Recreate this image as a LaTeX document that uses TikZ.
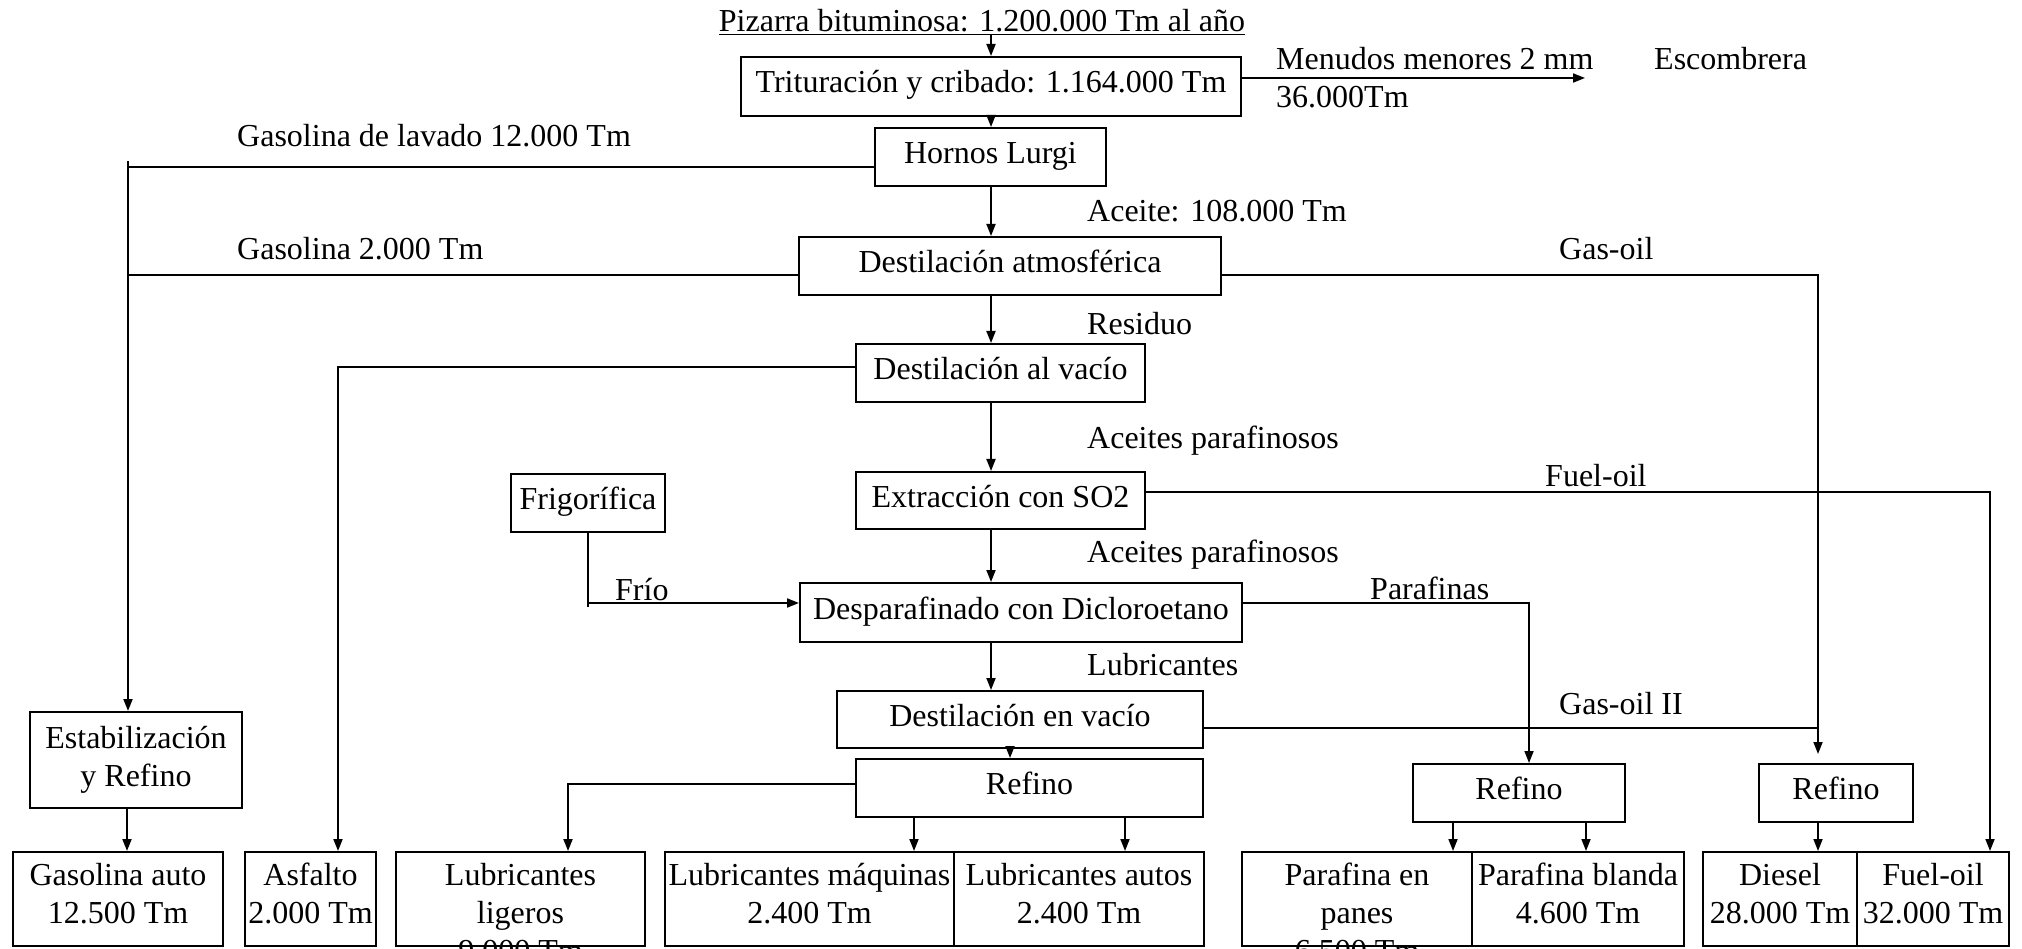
\documentclass[tikz,border=0pt]{standalone}
\usepackage{fontspec}
\setmainfont{Liberation Serif}
\usetikzlibrary{arrows.meta}
\begin{document}
\begin{tikzpicture}[x=1pt,y=-1pt,
  every node/.style={font=\fontsize{32}{38}\selectfont},
  box/.style={draw, line width=2pt, inner sep=0pt},
  one/.style={text height=22pt, text depth=9pt},
  lbl/.style={inner sep=0pt, anchor=base west},
  tx/.style={inner sep=0pt, anchor=base},
  ln/.style={line width=1.8pt},
  arr/.style={line width=1.8pt, -{Triangle[length=12pt,width=9pt]}}]
\useasboundingbox (0,0) rectangle (2022,949);
\clip (0,0) rectangle (2022,949);

% source
\node[tx] (src) at (982,32) {\underline{Pizarra bituminosa: 1.200.000 Tm al año}};

% process boxes
\node[box, one, minimum width=500pt, minimum height=59pt] (trit) at (991,86.5) {Trituración y cribado: 1.164.000 Tm};
\node[box, one, minimum width=231pt, minimum height=58pt] (horn) at (990.5,157) {Hornos Lurgi};
\node[box, one, minimum width=422pt, minimum height=58pt] (datm) at (1010,266) {Destilación atmosférica};
\node[box, one, minimum width=289pt, minimum height=58pt] (dvac) at (1000.5,373) {Destilación al vacío};
\node[box, one, minimum width=289pt, minimum height=57pt] (extr) at (1000.5,500.5) {Extracción con SO2};
\node[box, one, minimum width=154pt, minimum height=58pt] (frig) at (588,503) {Frigorífica};
\node[box, one, minimum width=442pt, minimum height=59pt] (desp) at (1021,612.5) {Desparafinado con Dicloroetano};
\node[box, one, minimum width=366pt, minimum height=57pt] (denv) at (1020,719.5) {Destilación en vacío};
\node[box, one, minimum width=347pt, minimum height=58pt] (ref1) at (1029.5,788) {Refino};
\node[box, one, minimum width=212pt, minimum height=58pt] (ref2) at (1519,793) {Refino};
\node[box, one, minimum width=154pt, minimum height=58pt] (ref3) at (1836,793) {Refino};
\node[box, minimum width=212pt, minimum height=96pt, align=center] (estab) at (136,760) {Estabilización\\y Refino};

% product boxes
\node[box, minimum width=210pt, minimum height=94pt] (gasa) at (118,899) {};
\node[box, minimum width=131pt, minimum height=94pt] (asf) at (310.5,899) {};
\node[box, minimum width=249pt, minimum height=94pt] (lubl) at (520.5,899) {};
\node[box, minimum width=289pt, minimum height=94pt] (lubm) at (809.5,899) {};
\node[box, minimum width=250pt, minimum height=94pt] (luba) at (1079,899) {};
\node[box, minimum width=230pt, minimum height=94pt] (parp) at (1357,899) {};
\node[box, minimum width=212pt, minimum height=94pt] (parb) at (1578,899) {};
\node[box, minimum width=154pt, minimum height=94pt] (dies) at (1780,899) {};
\node[box, minimum width=152pt, minimum height=94pt] (fuel) at (1933,899) {};

\coordinate (bl) at (0,885);
\node[tx] (tgasa) at (gasa |- bl) {\begin{tabular}[t]{@{}c@{}}Gasolina auto\\12.500 Tm\end{tabular}};
\node[tx] (tasf) at (asf |- bl) {\begin{tabular}[t]{@{}c@{}}Asfalto\\2.000 Tm\end{tabular}};
\node[tx] (tlubl) at (lubl |- bl) {\begin{tabular}[t]{@{}c@{}}Lubricantes\\ligeros\\9.000 Tm\end{tabular}};
\node[tx] (tlubm) at (lubm |- bl) {\begin{tabular}[t]{@{}c@{}}Lubricantes máquinas\\2.400 Tm\end{tabular}};
\node[tx] (tluba) at (luba |- bl) {\begin{tabular}[t]{@{}c@{}}Lubricantes autos\\2.400 Tm\end{tabular}};
\node[tx] (tparp) at (parp |- bl) {\begin{tabular}[t]{@{}c@{}}Parafina en\\panes\\6.500 Tm\end{tabular}};
\node[tx] (tparb) at (parb |- bl) {\begin{tabular}[t]{@{}c@{}}Parafina blanda\\4.600 Tm\end{tabular}};
\node[tx] (tdies) at (dies |- bl) {\begin{tabular}[t]{@{}c@{}}Diesel\\28.000 Tm\end{tabular}};
\node[tx] (tfuel) at (fuel |- bl) {\begin{tabular}[t]{@{}c@{}}Fuel-oil\\32.000 Tm\end{tabular}};

% flow labels
\node[lbl] (l1) at (1276,70) {Menudos menores 2 mm};
\node[lbl] (l2) at (1276,108) {36.000Tm};
\node[lbl] (l3) at (1654,70) {Escombrera};
\node[lbl] (l4) at (237,147) {Gasolina de lavado 12.000 Tm};
\node[lbl] (l5) at (237,260) {Gasolina 2.000 Tm};
\node[lbl] (l6) at (1087,222) {Aceite: 108.000 Tm};
\node[lbl] (l7) at (1559,260) {Gas-oil};
\node[lbl] (l8) at (1087,335) {Residuo};
\node[lbl] (l9) at (1087,449) {Aceites parafinosos};
\node[lbl] (l10) at (1545,486) {Fuel-oil};
\node[lbl] (l11) at (1087,562) {Aceites parafinosos};
\node[lbl] (l12) at (615,600) {Frío};
\node[lbl] (l13) at (1370,599) {Parafinas};
\node[lbl] (l14) at (1087,675) {Lubricantes};
\node[lbl] (l15) at (1559,714) {Gas-oil II};

% junction coordinates
\coordinate (mx) at (991,0);
\coordinate (rx) at (1010,0);
\coordinate (a1) at (914,0);
\coordinate (a2) at (1125,0);
\coordinate (m1) at (1585,78);
\coordinate (g0) at (128,161);
\coordinate (g1) at (128,167);
\coordinate (g2) at (128,275);
\coordinate (g3) at (127,0);
\coordinate (as) at (338,367);
\coordinate (go) at (1818,275);
\coordinate (go2) at (1818,728);
\coordinate (fo) at (1990,492);
\coordinate (pa) at (1529,603);
\coordinate (p1) at (1453,0);
\coordinate (p2) at (1586,0);
\coordinate (f1) at (588,607);
\coordinate (f2) at (588,603);
\coordinate (ll) at (568,784);

% main column
\draw[arr] (trit.north |- src.south) -- (trit.north);
\draw[arr] (trit.south) -- (trit.south |- horn.north);
\draw[arr] (horn.south -| mx) -- (datm.north -| mx);
\draw[arr] (datm.south -| mx) -- (dvac.north -| mx);
\draw[arr] (dvac.south -| mx) -- (extr.north -| mx);
\draw[arr] (extr.south -| mx) -- (desp.north -| mx);
\draw[arr] (desp.south -| mx) -- (denv.north -| mx);
\draw[arr] (denv.south -| rx) -- (ref1.north -| rx);
\draw[arr] (ref1.south -| a1) -- (lubm.north -| a1);
\draw[arr] (ref1.south -| a2) -- (luba.north -| a2);

% side streams
\draw[arr] (trit.east |- m1) -- (m1);
\draw[ln] (horn.west |- g1) -- (g1);
\draw[ln] (datm.west |- g2) -- (g2);
\draw[arr] (g0) -- (estab.north -| g0);
\draw[arr] (estab.south -| g3) -- (gasa.north -| g3);
\draw[arr] (dvac.west |- as) -- (as) -- (asf.north -| as);
\draw[arr, shorten >=9pt] (datm.east |- go) -- (go) -- (ref3.north -| go);
\draw[ln] (denv.east |- go2) -- (go2);
\draw[arr] (ref3.south -| go) -- (dies.north -| go);
\draw[arr] (extr.east |- fo) -- (fo) -- (fuel.north -| fo);
\draw[arr] (desp.east |- pa) -- (pa) -- (ref2.north -| pa);
\draw[arr] (ref2.south -| p1) -- (parp.north -| p1);
\draw[arr] (ref2.south -| p2) -- (parb.north -| p2);
\draw[ln] (frig.south) -- (f1);
\draw[arr] (f2) -- (f2 -| desp.west);
\draw[arr] (ref1.west |- ll) -- (ll) -- (lubl.north -| ll);
\end{tikzpicture}
\end{document}
